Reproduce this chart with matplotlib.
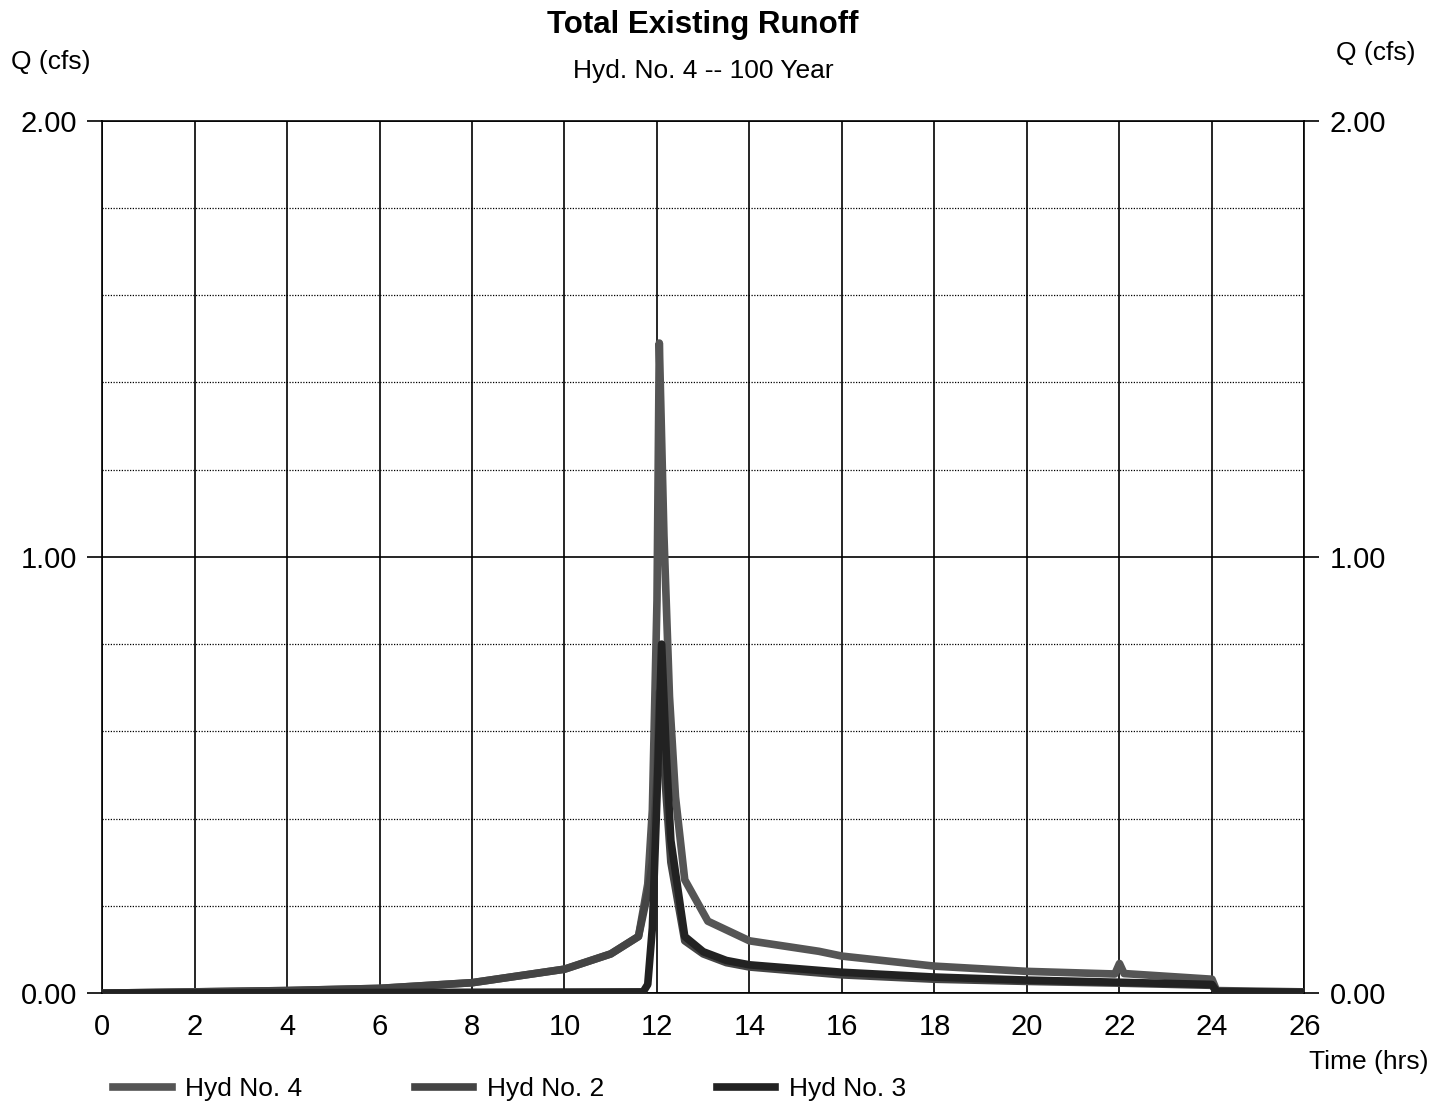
import numpy as np
import matplotlib.pyplot as plt

plt.rcParams['font.family'] = ['Liberation Sans', 'DejaVu Sans']

# Hyd No. 4 -- total runoff
t_hyd4 = [0, 2, 4, 6, 8, 10, 11, 11.6, 11.8, 11.9, 12.0, 12.05, 12.15, 12.27, 12.4,
          12.6, 13.1, 14, 15.5, 16, 18, 20, 21.9, 22.0, 22.1, 24, 24.1, 26]
q_hyd4 = [0.0, 0.003, 0.006, 0.011, 0.024, 0.055, 0.09, 0.13, 0.25, 0.42, 0.9, 1.49, 1.05, 0.68, 0.45,
          0.26, 0.165, 0.12, 0.096, 0.085, 0.062, 0.05, 0.044, 0.068, 0.045, 0.032, 0.006, 0.003]

# Hyd No. 2
t_hyd2 = [0, 2, 4, 6, 8, 10, 11, 11.6, 11.8, 11.9, 12.0, 12.05, 12.2, 12.3, 12.6,
          13.0, 13.5, 14, 16, 18, 20, 22, 24, 24.1, 26]
q_hyd2 = [0.0, 0.003, 0.006, 0.011, 0.024, 0.055, 0.09, 0.13, 0.23, 0.3, 0.5, 0.69, 0.45, 0.3, 0.12,
          0.09, 0.07, 0.06, 0.042, 0.032, 0.027, 0.023, 0.018, 0.003, 0.002]

# Hyd No. 3
t_hyd3 = [0, 11.7, 11.8, 11.9, 12.0, 12.1, 12.2, 12.3, 12.6, 13.0, 13.5, 14, 16, 18, 20, 22, 24, 24.1, 26]
q_hyd3 = [0.0, 0.003, 0.02, 0.15, 0.45, 0.80, 0.55, 0.35, 0.13, 0.095, 0.075, 0.065, 0.048, 0.037,
          0.03, 0.025, 0.02, 0.004, 0.002]

x_ticks = np.arange(0, 27, 2)
y_ticks = [0.0, 1.0, 2.0]

fig = plt.figure(figsize=(14.47, 11.06), dpi=100)
ax = fig.add_axes([0.0705, 0.102, 0.831, 0.789])

ax.plot(t_hyd4, q_hyd4, color='#555555', lw=5.5, solid_joinstyle='round', label='Hyd No. 4', zorder=3)
ax.plot(t_hyd2, q_hyd2, color='#444444', lw=5.5, solid_joinstyle='round', label='Hyd No. 2', zorder=4)
ax.plot(t_hyd3, q_hyd3, color='#222222', lw=5.5, solid_joinstyle='round', label='Hyd No. 3', zorder=5)

ax.set_xlim(0, 26)
ax.set_ylim(0, 2)
ax.set_xticks(x_ticks)
ax.set_yticks(y_ticks)
ax.set_yticklabels(['%.2f' % v for v in y_ticks])
ax.set_yticks(np.arange(0.2, 2.0, 0.2), minor=True)

# solid grid every 2 hrs and every 1 cfs, dotted every 0.2 cfs
ax.grid(which='major', color='black', lw=1.2)
ax.grid(which='minor', axis='y', color='black', lw=0.9, linestyle=(0, (1, 1.2)))
ax.set_axisbelow(True)
for s in ax.spines.values():
    s.set_linewidth(1.2)

ax.tick_params(axis='y', which='major', length=11, width=1.2, pad=7, labelsize=21,
               right=True, labelright=True)
ax.tick_params(axis='y', which='minor', length=0)
ax.tick_params(axis='x', length=0, pad=14, labelsize=21)

fig.text(0.486, 0.977, 'Total Existing Runoff', ha='center', va='center', fontsize=22.5, fontweight='bold')
fig.text(0.486, 0.936, 'Hyd. No. 4 -- 100 Year', ha='center', va='center', fontsize=19)
fig.text(0.035, 0.944, 'Q (cfs)', ha='center', va='center', fontsize=19)
fig.text(0.951, 0.952, 'Q (cfs)', ha='center', va='center', fontsize=19)
fig.text(0.946, 0.040, 'Time (hrs)', ha='center', va='center', fontsize=19)

fig.legend(loc='center left', bbox_to_anchor=(0.062, 0.015), ncol=3, frameon=False,
           fontsize=19, handlelength=2.2, columnspacing=4.3, handletextpad=0.5)

fig.savefig('out.png', dpi=100)
